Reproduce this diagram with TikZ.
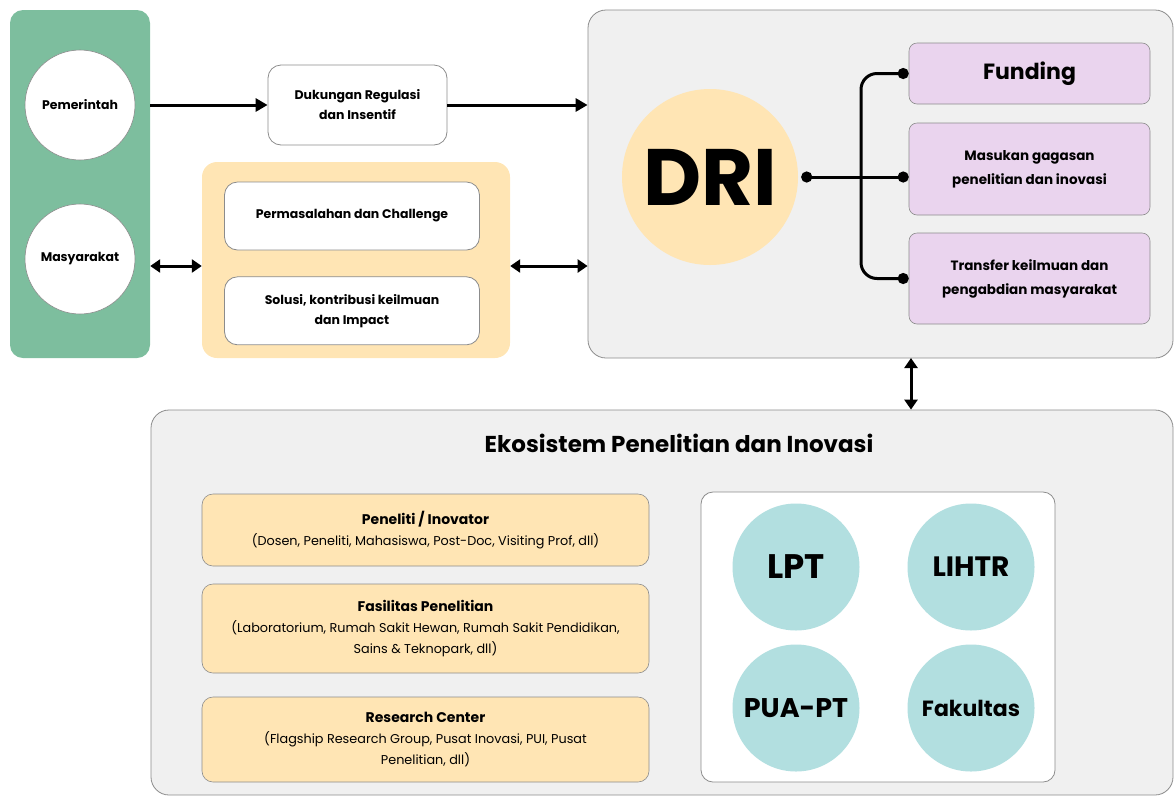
\documentclass[tikz,border=0pt]{standalone}
\usepackage{fontspec}
\setmainfont{Poppins}
\usetikzlibrary{positioning,arrows.meta,calc}
\definecolor{sagegreen}{RGB}{125,190,158}
\definecolor{cream}{RGB}{255,229,180}
\definecolor{panelgray}{RGB}{240,240,240}
\definecolor{edgegray}{RGB}{140,140,140}
\definecolor{lavender}{RGB}{234,212,238}
\definecolor{paleteal}{RGB}{178,223,224}

\begin{document}
\begin{tikzpicture}[
    x=1pt, y=-1pt,
    panel/.style={draw=edgegray, line width=0.8pt, rounded corners=18pt, fill=panelgray},
    wbox/.style={draw=edgegray, line width=0.8pt, rounded corners=13pt, fill=white, align=center,
        font=\fontsize{12.5}{20}\selectfont\bfseries},
    obox/.style={draw=edgegray, line width=0.6pt, rounded corners=11pt, fill=cream, align=center,
        minimum width=447pt, font=\fontsize{12.8}{21}\selectfont},
    pbox/.style={draw=edgegray, line width=0.6pt, rounded corners=8pt, fill=lavender, align=center,
        minimum width=241pt, font=\fontsize{13.5}{24}\selectfont\bfseries},
    actor/.style={circle, draw=edgegray, line width=0.6pt, fill=white, minimum size=110pt,
        inner sep=0pt, font=\fontsize{12.5}{15}\selectfont\bfseries},
    unit/.style={circle, fill=paleteal, minimum size=127pt, inner sep=0pt, font=\bfseries},
    arrow/.style={-{Triangle[length=12pt,width=13pt]}, line width=3pt},
    biarrow/.style={{Triangle[length=10pt,width=13pt]}-{Triangle[length=10pt,width=13pt]}, line width=3pt},
    link/.style={{Circle[length=11pt]}-{Circle[length=11pt]}, line width=3pt}
]
\useasboundingbox (0,0) rectangle (1175,796);

% kiri: aktor
\node[fill=sagegreen, rounded corners=13pt, minimum width=140pt, minimum height=348pt] (actors) at (80,184) {};
\node[actor] (pem) at (80,105) {Pemerintah};
\node[actor] (mas) at (80,259) {Masyarakat};

\node[wbox, minimum width=179pt, minimum height=80pt] (regulasi) at (357.5,105) {Dukungan Regulasi\\dan Insentif};

\node[fill=cream, rounded corners=15pt, minimum width=308pt, minimum height=196pt] (isu) at (356,260) {};
\node[wbox, minimum width=255pt, minimum height=68pt] (masalah) at (352,216) {Permasalahan dan Challenge};
\node[wbox, minimum width=255pt, minimum height=68pt, below=26pt of masalah] (solusi) {Solusi, kontribusi keilmuan\\dan Impact};

% kanan: DRI
\node[panel, minimum width=585pt, minimum height=348pt] (dripanel) at (880.5,184) {};
\node[circle, fill=cream, minimum size=176pt, inner sep=0pt, font=\fontsize{80}{80}\selectfont\bfseries] (dri) at (710,177) {DRI};
\node[pbox, minimum height=61pt, font=\fontsize{22}{24}\selectfont\bfseries] (funding) at (1029.5,73.5) {Funding};
\node[pbox, minimum height=92pt] (masukan) at (1029.5,169) {Masukan gagasan\\penelitian dan inovasi};
\node[pbox, minimum height=91pt] (transfer) at (1029.5,278.5) {Transfer keilmuan dan\\pengabdian masyarakat};
\coordinate (spine) at (861,177);

% bawah: ekosistem
\node[panel, minimum width=1022pt, minimum height=385pt] (eko) at (662,602.5) {};
\node[font=\fontsize{23}{26}\selectfont\bfseries] (ekotitle) at (679,443) {Ekosistem Penelitian dan Inovasi};
\node[obox, minimum height=72pt] (peneliti) at (425.5,530) {\textbf{\fontsize{14}{21}\selectfont Peneliti / Inovator}\\(Dosen, Peneliti, Mahasiswa, Post-Doc, Visiting Prof, dll)};
\node[obox, minimum height=89pt] (fasilitas) at (425.5,628.5) {\textbf{\fontsize{14}{21}\selectfont Fasilitas Penelitian}\\(Laboratorium, Rumah Sakit Hewan, Rumah Sakit Pendidikan,\\Sains \& Teknopark, dll)};
\node[obox, minimum height=85pt] (rc) at (425.5,739.5) {\textbf{\fontsize{14}{21}\selectfont Research Center}\\(Flagship Research Group, Pusat Inovasi, PUI, Pusat\\Penelitian, dll)};
\node[draw=edgegray, line width=0.8pt, rounded corners=12pt, fill=white, minimum width=354pt, minimum height=290pt] (lembaga) at (878,637) {};
\node[unit, font=\fontsize{34}{36}\selectfont\bfseries] (lpt) at (796,567) {LPT};
\node[unit, font=\fontsize{28}{30}\selectfont\bfseries] (lihtr) at (971,567) {LIHTR};
\node[unit, font=\fontsize{27}{30}\selectfont\bfseries] (puapt) at (796,708) {PUA-PT};
\node[unit, font=\fontsize{22}{24}\selectfont\bfseries] (fakultas) at (971,708) {Fakultas};
\coordinate (vlink) at (911,358);

% konektor
\draw[arrow] (regulasi -| actors.east) -- (regulasi);
\draw[arrow] (regulasi) -- (regulasi -| dripanel.west);
\draw[biarrow] ([yshift=-6pt]isu.west -| actors.east) -- ([yshift=-6pt]isu.west);
\draw[biarrow] ([yshift=-6pt]isu.east) -- ([yshift=-6pt]isu.east -| dripanel.west);
\draw[link] ([xshift=3pt]dri.east) -- ([xshift=0pt]dri.east -| masukan.west);
\draw[link, rounded corners=16pt] (funding.west) -| (spine) |- (transfer.west);
\draw[biarrow] (vlink) -- (vlink |- eko.north);
\end{tikzpicture}
\end{document}
